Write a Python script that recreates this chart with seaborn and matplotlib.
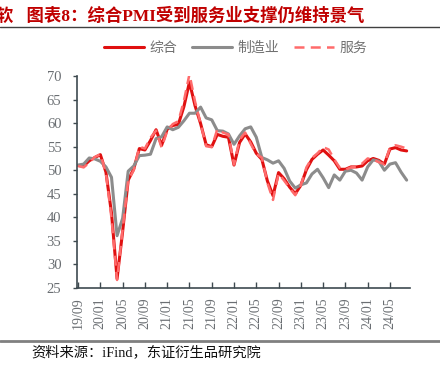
import numpy as np
import pandas as pd
import matplotlib
matplotlib.use("Agg")
import matplotlib.pyplot as plt
import seaborn as sns
from matplotlib.lines import Line2D

# ---- data (monthly, 2019/09 - 2024/08) ----
months = pd.period_range("2019-09", "2024-08", freq="M")
month_labels = [p.strftime("%y/%m") for p in months]

composite = [51.0, 50.9, 52.0, 52.7,
             53.3, 49.6, 40.9, 27.0, 37.0, 47.9, 50.3, 54.6, 54.3, 56.3, 58.6, 55.3,
             58.7, 59.5, 59.7, 63.5, 68.7, 63.7, 59.9, 55.4, 55.0, 57.6, 57.2, 57.0,
             51.1, 55.9, 57.7, 56.0, 53.6, 52.3, 47.7, 44.6, 49.5, 48.2, 46.4, 45.0,
             46.8, 50.1, 52.3, 53.4, 54.3, 53.2, 52.0, 50.2, 50.2, 50.7, 50.7, 50.9,
             52.0, 52.5, 52.1, 51.3, 54.5, 54.8, 54.3, 54.1]
manufacturing = [51.1, 51.3, 52.6, 52.4,
                 51.9, 50.7, 48.5, 36.1, 39.8, 49.8, 50.9, 53.1, 53.2, 53.4, 56.7, 57.1,
                 59.2, 58.6, 59.1, 60.5, 62.1, 62.1, 63.4, 61.1, 60.7, 58.4, 58.3, 57.7,
                 55.5, 57.3, 58.8, 59.2, 57.0, 52.7, 52.2, 51.5, 52.0, 50.4, 47.7, 46.2,
                 46.9, 47.3, 49.2, 50.2, 48.4, 46.3, 49.0, 47.9, 49.8, 50.0, 49.4, 47.9,
                 50.7, 52.2, 51.9, 50.0, 51.3, 51.6, 49.6, 47.9]
services = [50.9, 50.6, 51.6, 52.8,
            53.4, 49.4, 39.8, 26.7, 37.5, 47.9, 50.0, 55.0, 54.6, 56.9, 58.4, 54.8,
            58.3, 59.8, 60.4, 64.7, 70.4, 64.6, 59.9, 55.1, 54.9, 58.7, 58.0, 57.6,
            51.2, 56.5, 58.0, 55.6, 53.4, 52.7, 47.3, 43.7, 49.3, 47.8, 46.2, 44.7,
            46.8, 50.6, 52.6, 53.6, 54.9, 54.4, 52.3, 50.5, 50.1, 50.6, 50.8, 51.4,
            52.5, 52.3, 51.7, 51.3, 54.8, 55.3, 55.0, 54.6]

series_names = ["综合", "制造业", "服务"]
title_text = "软   图表8：综合PMI受到服务业支撑仍维持景气"
source_text = "资料来源：iFind，东证衍生品研究院"

x = np.arange(len(months))
df = pd.DataFrame({
    "x": np.tile(x, 3),
    "value": composite + manufacturing + services,
    "series": np.repeat(series_names, len(x)),
})

sns.set_theme(style="white")
plt.rcParams["font.family"] = ["Liberation Serif", "Noto Sans CJK SC", "DejaVu Sans"]

fig = plt.figure(figsize=(4.4, 3.75), dpi=100)
ax = fig.add_axes([0.1743, 0.232, 0.7575, 0.5653])

colors = {"综合": "#E01010", "制造业": "#8C8C8C", "服务": "#FF6B6B"}
sns.lineplot(data=df, x="x", y="value", hue="series", style="series",
             hue_order=series_names, style_order=series_names,
             palette=colors, dashes={"综合": "", "制造业": "", "服务": (4, 2.5)},
             linewidth=2.2, ax=ax, legend=False)
for ln in ax.lines:
    ln.set_solid_capstyle("round")
    ln.set_solid_joinstyle("round")
ax.lines[2].set_linewidth(1.8)
ax.lines[2].set_zorder(5)

ax.set_ylim(25, 70)
ax.set_xlim(-0.25, 59.6)
ax.set_yticks(np.arange(25, 71, 5))
tick_idx = x[::4]
ax.set_xticks(tick_idx)
ax.set_xticklabels([month_labels[i] for i in tick_idx], rotation=90)
ax.set_xlabel("")
ax.set_ylabel("")

axcol = "#3E4A50"
for s in ["top", "right"]:
    ax.spines[s].set_visible(False)
for s in ["left", "bottom"]:
    ax.spines[s].set_color(axcol)
    ax.spines[s].set_linewidth(1.2)
ax.tick_params(axis="y", direction="out", length=3, width=1, color=axcol,
               labelsize=10.5, labelcolor="#6A6E72", pad=8)
ax.tick_params(axis="x", direction="in", length=4, width=1, color=axcol,
               labelsize=10, labelcolor="#6A6E72", pad=7)
ax.tick_params(axis="both", which="both", left=True, bottom=True)

# title and rules
fig.text(-0.008, 0.958, title_text, fontsize=12.5, color="#C00000",
         fontweight="bold", va="center", ha="left",
         family=["Liberation Serif", "Noto Sans CJK SC"])
fig.add_artist(Line2D([0, 1], [0.928, 0.928], color="#404040", lw=1.0))
fig.add_artist(Line2D([0, 1], [0.092, 0.092], color="#808080", lw=2.0))
fig.text(0.07, 0.061, source_text, fontsize=10.3, color="#111111",
         va="center", ha="left", family=["Liberation Serif", "Noto Sans CJK SC"])

handles = [Line2D([], [], color=colors["综合"], lw=2.2),
           Line2D([], [], color=colors["制造业"], lw=2.2),
           Line2D([], [], color=colors["服务"], lw=1.8, dashes=(4, 2.5))]
fig.legend(handles, series_names, loc="center", bbox_to_anchor=(0.535, 0.872),
           ncol=3, frameon=False, fontsize=10, handlelength=2.9,
           columnspacing=1.1, handletextpad=0.35, labelcolor="#707070")

fig.savefig("out.png", dpi=100)
